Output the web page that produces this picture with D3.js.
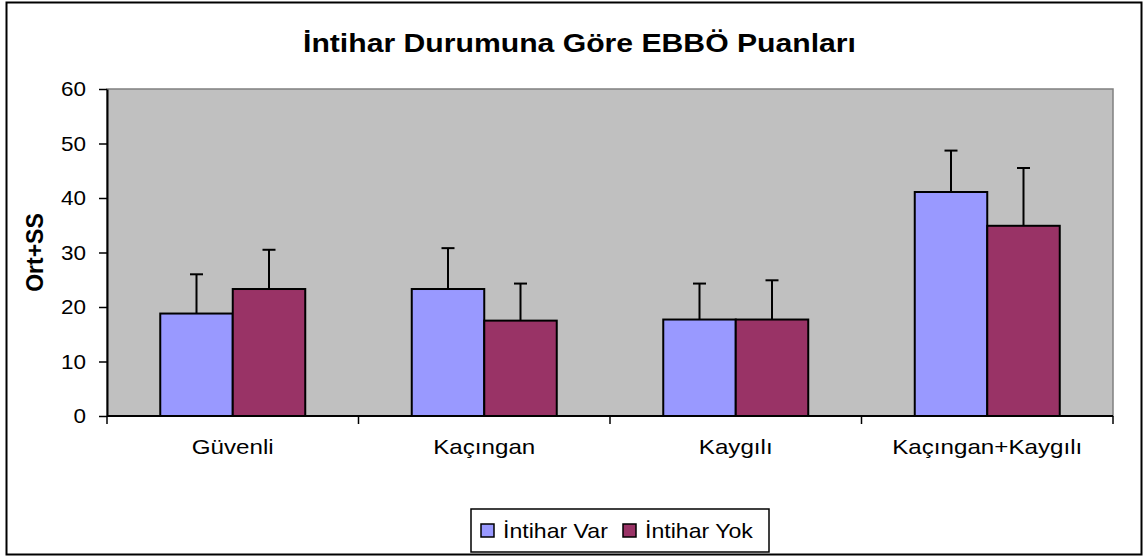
<!DOCTYPE html>
<html><head><meta charset="utf-8">
<script src="https://cdn.jsdelivr.net/npm/d3@7"></script>
<style>html,body{margin:0;padding:0;background:#fff;}svg{display:block;}</style>
</head><body>
<svg id="c" width="1145" height="558"></svg>
<script>
const categories = ["Güvenli", "Kaçıngan", "Kaygılı", "Kaçıngan+Kaygılı"];
const seriesNames = ["İntihar Var", "İntihar Yok"];
const varMean = [18.8, 23.3, 17.7, 41.1];
const varSD = [7.2, 7.5, 6.6, 7.6];
const yokMean = [23.3, 17.5, 17.7, 34.9];
const yokSD = [7.2, 6.8, 7.2, 10.6];
const yTicks = [0, 10, 20, 30, 40, 50, 60];
const colors = ["#9999FF", "#993366"];
const title = "İntihar Durumuna Göre EBBÖ Puanları";
const yLabel = "Ort+SS";

const svg = d3.select("#c");
const font = "'Liberation Sans', Arial, sans-serif";
const L = 107, R = 1113, T = 89, B = 416;

function stretch(sel, f) {
  sel.each(function () {
    const len = this.getComputedTextLength();
    d3.select(this).attr("textLength", len * f).attr("lengthAdjust", "spacingAndGlyphs");
  });
}

svg.append("rect").attr("x", 6.5).attr("y", 2.5).attr("width", 1135).attr("height", 552)
  .attr("fill", "#fff").attr("stroke", "#000").attr("stroke-width", 2);

const x = d3.scaleBand().domain(categories).range([L, R]).padding(0);
const y = d3.scaleLinear().domain([0, 60]).range([B, T]);
const groupFrac = 145 / 251.5;
const xs = d3.scaleBand().domain(seriesNames).range([0, x.bandwidth() * groupFrac]).padding(0);
const groupOff = x.bandwidth() * (1 - groupFrac) / 2;

svg.append("rect").attr("x", L).attr("y", T).attr("width", R - L).attr("height", B - T)
  .attr("fill", "#C0C0C0").attr("stroke", "#808080").attr("stroke-width", 1.5);

const data = [];
categories.forEach((c, i) => {
  data.push({c, s: seriesNames[0], m: varMean[i], sd: varSD[i], col: colors[0]});
  data.push({c, s: seriesNames[1], m: yokMean[i], sd: yokSD[i], col: colors[1]});
});

const bx = d => x(d.c) + groupOff + xs(d.s);
svg.append("g").selectAll("rect").data(data).join("rect")
  .attr("x", bx).attr("y", d => y(d.m))
  .attr("width", xs.bandwidth()).attr("height", d => y(0) - y(d.m))
  .attr("fill", d => d.col).attr("stroke", "#000").attr("stroke-width", 2);

const eb = svg.append("g").attr("stroke", "#000").attr("stroke-width", 2);
data.forEach(d => {
  const cx = bx(d) + xs.bandwidth() / 2;
  eb.append("line").attr("x1", cx).attr("x2", cx).attr("y1", y(d.m)).attr("y2", y(d.m + d.sd));
  eb.append("line").attr("x1", cx - 6.5).attr("x2", cx + 6.5).attr("y1", y(d.m + d.sd)).attr("y2", y(d.m + d.sd));
});

// y axis
const ya = svg.append("g").attr("transform", `translate(${L},0)`)
  .call(d3.axisLeft(y).tickValues(yTicks).tickSize(8).tickPadding(13).tickSizeOuter(0));
ya.select(".domain").attr("stroke", "#000").attr("stroke-width", 2);
ya.selectAll(".tick line").attr("stroke", "#000").attr("stroke-width", 1.5);
ya.selectAll("text").attr("font-family", font).attr("font-size", 21).attr("fill", "#000");
stretch(ya.selectAll("text"), 1.07);

// x axis
const xa = svg.append("g").attr("transform", `translate(0,${B})`);
xa.append("line").attr("x1", L).attr("x2", R).attr("stroke", "#000").attr("stroke-width", 2);
const bounds = categories.map(c => x(c)).concat([x(categories[categories.length - 1]) + x.bandwidth()]);
xa.selectAll("line.t").data(bounds).join("line").attr("class", "t")
  .attr("x1", d => d).attr("x2", d => d).attr("y1", 0).attr("y2", 8)
  .attr("stroke", "#000").attr("stroke-width", 1.5);
const xl = xa.selectAll("text").data(categories).join("text")
  .attr("x", d => x(d) + x.bandwidth() / 2).attr("y", 38)
  .attr("text-anchor", "middle").attr("font-family", font).attr("font-size", 21).text(d => d);
stretch(xl, 1.15);

// title
svg.append("text").attr("x", 303).attr("y", 52).attr("text-anchor", "start")
  .attr("font-family", font).attr("font-weight", "bold").attr("font-size", 25)
  .attr("textLength", 553).attr("lengthAdjust", "spacingAndGlyphs").text(title);

// y label
svg.append("text").attr("transform", `translate(43,${(T + B) / 2}) rotate(-90)`)
  .attr("text-anchor", "middle").attr("font-family", font).attr("font-weight", "bold")
  .attr("font-size", 23).text(yLabel);

// legend
const lg = svg.append("g");
lg.append("rect").attr("x", 471).attr("y", 509).attr("width", 298).attr("height", 43)
  .attr("fill", "#fff").attr("stroke", "#000").attr("stroke-width", 1.5);
const legX = [481, 623];
seriesNames.forEach((s, i) => {
  lg.append("rect").attr("x", legX[i]).attr("y", 524).attr("width", 13).attr("height", 13)
    .attr("fill", colors[i]).attr("stroke", "#000").attr("stroke-width", 1.5);
  const t = lg.append("text").attr("x", legX[i] + 22).attr("y", 538).attr("font-family", font)
    .attr("font-size", 21).text(s);
  stretch(t, 1.1);
});
</script>
</body></html>
